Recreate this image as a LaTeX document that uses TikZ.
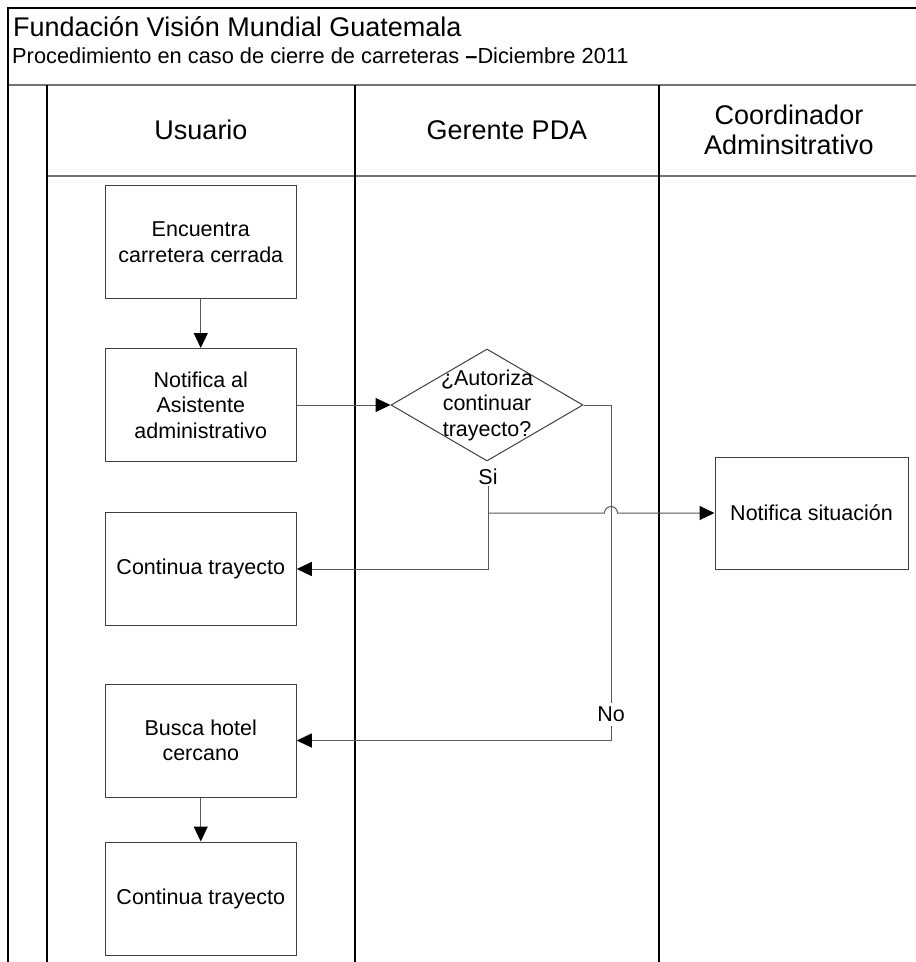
\documentclass[tikz,border=0pt]{standalone}
\usepackage{fontspec}
\setmainfont{Liberation Sans}
\usetikzlibrary{arrows.meta,shapes.geometric}
\begin{document}
\begin{tikzpicture}[x=1pt,y=-1pt,
  frame/.style={line width=2pt,black},
  laneline/.style={line width=1.4pt,black},
  rowline/.style={line width=2pt,black!55},
  procbox/.style={draw=black!75,line width=1pt,minimum width=191pt,minimum height=113pt,
    inner sep=0pt,align=center,font=\fontsize{21.5}{25.5}\selectfont},
  decision/.style={draw=black!75,line width=1pt,diamond,minimum width=192pt,
    minimum height=112pt,inner sep=0pt},
  lanehead/.style={align=center,font=\fontsize{27}{30}\selectfont},
  flow/.style={draw=black!65,line width=1pt,-{Triangle[length=15pt,width=14pt,color=black]}},
  tag/.style={font=\fontsize{21.5}{25.5}\selectfont,inner sep=1pt}
]
\useasboundingbox (0,0) rectangle (916,962);
\fill[white] (0,0) rectangle (916,962);

% pool frame and lanes
\draw[rowline] (8,85) -- (916,85);
\draw[rowline] (47,176) -- (916,176);
\draw[line width=1.5pt] (8,8) -- (916,8);
\draw[laneline] (355,85) -- (355,962);
\draw[laneline] (659,85) -- (659,962);
\draw[frame] (8,7) -- (8,962);
\draw[frame] (47,85) -- (47,962);

% title block
\node[anchor=base west,inner sep=0pt,font=\fontsize{27}{30}\selectfont] (title) at (13,36)
  {Fundación Visión Mundial Guatemala};
\node[anchor=base west,inner sep=0pt,font=\fontsize{21.8}{25}\selectfont] (subtitle) at (12,63)
  {Procedimiento en caso de cierre de carreteras \textbf{–}Diciembre 2011};

% lane headers
\node[lanehead] (hUser) at (201,130) {Usuario};
\node[lanehead] (hMgr) at (507,130) {Gerente PDA};
\node[lanehead] (hCoord) at (789,130) {Coordinador\\Adminsitrativo};

% steps
\node[procbox] (enc) at (200.75,242) {Encuentra\\carretera cerrada};
\node[procbox] (notif) at (200.75,405) {Notifica al\\Asistente\\administrativo};
\node[procbox] (cont1) at (200.75,569) {Continua trayecto};
\node[procbox] (busca) at (200.75,740.5) {Busca hotel\\cercano};
\node[procbox] (cont2) at (200.75,898.5) {Continua trayecto};
\node[procbox,minimum width=193pt,minimum height=112pt] (sit) at (811.5,513) {Notifica situación};

% decision
\node[decision] (dec) at (487,405) {};
\node[align=center,inner sep=0pt,font=\fontsize{21.5}{25.5}\selectfont] (decText) at (dec.center)
  {¿Autoriza\\continuar\\trayecto?};

% connectors
\draw[flow] (enc) -- (notif);
\draw[flow] (notif.east) -- (dec.west);
\draw[flow] (busca) -- (cont2);

\node[tag] (si) at (488,477) {Si};
\draw[flow] (si.south) |- (cont1.east);

\coordinate (split) at (488,513);
\coordinate (hop) at (604.5,513);
\draw[flow] (split) -- (hop) arc[start angle=180,end angle=0,radius=6.5pt] -- (sit.west);

\coordinate (noCorner) at (611,405);
\draw[flow] (dec.east) -- (noCorner) |- (busca.east);
\node[tag,fill=white,inner sep=4pt] (no) at (611,714) {No};
\end{tikzpicture}
\end{document}
